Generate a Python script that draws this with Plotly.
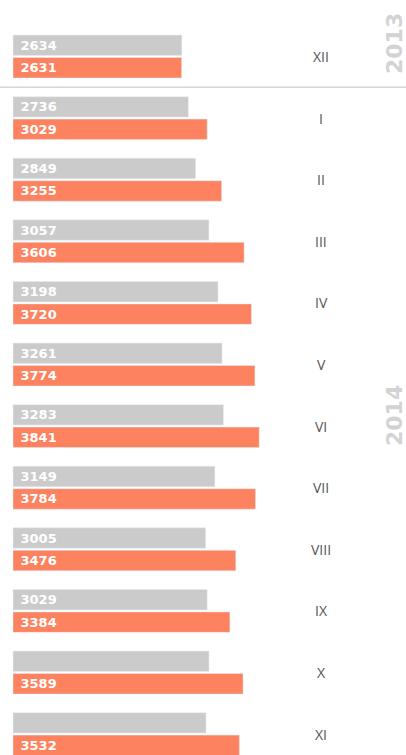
import plotly.graph_objects as go

months = ["XII", "I", "II", "III", "IV", "V", "VI", "VII", "VIII", "IX", "X", "XI"]
prev_year = [2634, 2736, 2849, 3057, 3198, 3261, 3283, 3149, 3005, 3029, 3058, 3012]
prev_labels = ["2634", "2736", "2849", "3057", "3198", "3261", "3283", "3149", "3005", "3029", "", ""]
curr_year = [2631, 3029, 3255, 3606, 3720, 3774, 3841, 3784, 3476, 3384, 3589, 3532]
curr_labels = [str(v) for v in curr_year]
year_labels = ["2013", "2014"]

GRAY = "#cbcbcb"
ORANGE = "#fc8260"
k = 0.0641  # px per unit
W, H = 406, 755

label_font = dict(family="DejaVu Sans", size=13, color="white", weight="bold")

fig = go.Figure()
fig.add_trace(go.Bar(
    y=months, x=prev_year, orientation="h", marker_color=GRAY,
    text=prev_labels, texttemplate="\u00a0%{text}", textposition="inside", insidetextanchor="start",
    constraintext="none", textfont=label_font, hoverinfo="skip",
))
fig.add_trace(go.Bar(
    y=months, x=curr_year, orientation="h", marker_color=ORANGE,
    text=curr_labels, texttemplate="\u00a0%{text}", textposition="inside", insidetextanchor="start",
    constraintext="none", textfont=label_font, hoverinfo="skip",
))

for m in months:
    fig.add_annotation(x=321 / W, xref="paper", xanchor="center", y=m, yref="y", yanchor="middle",
                       text=m, showarrow=False,
                       font=dict(family="Open Sans", size=14, color="#555555"))

year_font = dict(family="DejaVu Sans", size=22, color="#d3d3d3", weight="bold")
fig.add_annotation(x=394.5 / W, xref="paper", xanchor="center", y=1 - 43.5 / H, yref="paper",
                   yanchor="middle", text=year_labels[0], textangle=-90, showarrow=False,
                   font=year_font)
fig.add_annotation(x=394.5 / W, xref="paper", xanchor="center", y=1 - 415.5 / H, yref="paper",
                   yanchor="middle", text=year_labels[1], textangle=-90, showarrow=False,
                   font=year_font)

fig.add_shape(type="line", xref="paper", x0=0, x1=1, yref="y", y0=0.5, y1=0.5,
              line=dict(color="#d5d5d5", width=1.5))

pitch = 61.6
c0 = 56.5
fig.update_layout(
    width=W, height=H, margin=dict(l=0, r=0, t=0, b=0),
    paper_bgcolor="white", plot_bgcolor="white",
    barmode="group", bargap=0.27, bargroupgap=0.09,
    showlegend=False,
    xaxis=dict(range=[-13 / k, (W - 13) / k], visible=False, fixedrange=True),
    yaxis=dict(categoryorder="array", categoryarray=months,
               range=[(H - c0) / pitch, -c0 / pitch], visible=False, fixedrange=True),
)

fig.write_html("out.html", config={"displayModeBar": False},
               post_script="document.body.style.margin='0';document.body.style.overflow='hidden';")
